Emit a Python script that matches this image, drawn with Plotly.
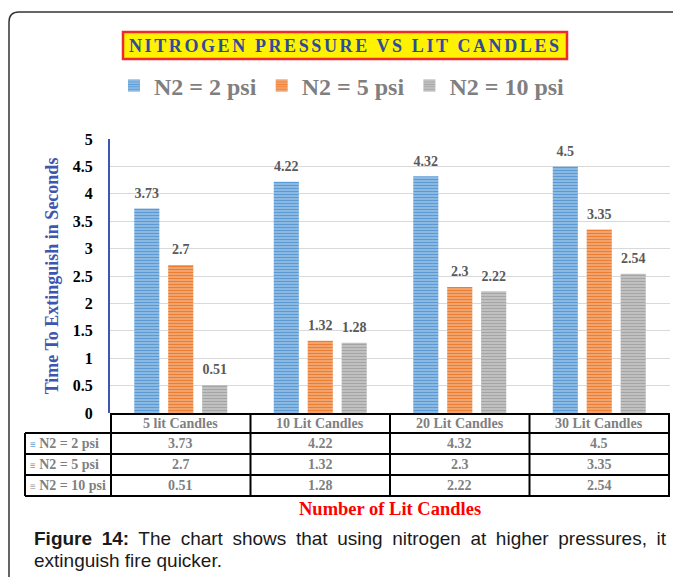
import plotly.graph_objects as go

categories = ["5 lit Candles", "10 Lit Candles", "20 Lit Candles", "30 Lit Candles"]
series_names = ["N2 = 2 psi", "N2 = 5 psi", "N2 = 10 psi"]
n2_2psi = [3.73, 4.22, 4.32, 4.5]
n2_5psi = [2.7, 1.32, 2.3, 3.35]
n2_10psi = [0.51, 1.28, 2.22, 2.54]
series_values = [n2_2psi, n2_5psi, n2_10psi]
colors = ["#5B9BD5", "#ED7D31", "#A5A5A5"]
y_ticks = [0, 0.5, 1, 1.5, 2, 2.5, 3, 3.5, 4, 4.5, 5]

# page offset of the figure inside the browser window (body margin)
OFF = 8
WIN_W, WIN_H = 681, 577
W, H = WIN_W - OFF, WIN_H - OFF
# plot area in window pixels
L, R, T, B = 110, 670, 139, 413


def px(x):
    return (x - L) / (R - L)


def py(y):
    return (B - y) / (B - T)


SERIF = "Liberation Serif"
SANS = "Liberation Sans"
GRAY_TXT = "#7F7F7F"

fig = go.Figure()
for name, vals, col in zip(series_names, series_values, colors):
    fig.add_trace(go.Bar(
        x=categories, y=vals, name=f"<b>{name}</b>",
        marker=dict(color=col, line=dict(width=0),
                    pattern=dict(shape="-", fgcolor=col, bgcolor="white", fgopacity=1,
                                 size=3, solidity=0.8, fillmode="replace")),
    ))
for name, vals, col in zip(series_names, series_values, colors):
    fig.add_trace(go.Scatter(
        x=categories, y=vals, mode="markers+text", showlegend=False,
        text=[f"{v:g}" for v in vals], textposition="top center",
        marker=dict(size=10, color="rgba(0,0,0,0)"),
        textfont=dict(family=SERIF, size=14, color="#595959", weight="bold"),
        cliponaxis=False, hoverinfo="skip",
    ))

shapes = []
annotations = []

# outer border
shapes.append(dict(type="path", xref="paper", yref="paper",
                   path=f"M {px(9)},{py(600)} L {px(9)},{py(22)} Q {px(9)},{py(12)} {px(19)},{py(12)} L {px(700)},{py(12)}",
                   line=dict(color="#333333", width=1.5)))

# title box
shapes.append(dict(type="rect", xref="paper", yref="paper",
                   x0=px(123), x1=px(567), y0=py(59), y1=py(32),
                   fillcolor="#FFF200", line=dict(color="#EE2A2A", width=2.5), layer="below"))
annotations.append(dict(xref="paper", yref="paper", x=px(345), y=py(46),
                        text="<span style='letter-spacing:2.6px'>NITROGEN PRESSURE VS LIT CANDLES</span>",
                        showarrow=False, xanchor="center", yanchor="middle",
                        font=dict(family=SERIF, size=18, color="#2F4A9C", weight="bold")))

# data table
row_tops = [414, 433, 454, 475, 496]
lw = 2
shapes.append(dict(type="line", xref="paper", yref="paper", x0=px(110), x1=px(670),
                   y0=py(row_tops[0]), y1=py(row_tops[0]), line=dict(color="black", width=lw)))
for yy in row_tops[1:]:
    shapes.append(dict(type="line", xref="paper", yref="paper", x0=px(25), x1=px(670),
                       y0=py(yy), y1=py(yy), line=dict(color="black", width=lw)))
shapes.append(dict(type="line", xref="paper", yref="paper", x0=px(25), x1=px(25),
                   y0=py(row_tops[1]), y1=py(row_tops[-1]), line=dict(color="black", width=lw)))
for i in range(len(categories) + 1):
    shapes.append(dict(type="line", xref="x", yref="paper", x0=i - 0.5, x1=i - 0.5,
                       y0=py(row_tops[0]), y1=py(row_tops[-1]), line=dict(color="black", width=lw)))

cell_font = dict(family=SERIF, size=14, color=GRAY_TXT, weight="bold")
for c in categories:
    annotations.append(dict(xref="x", yref="paper", x=c, y=py((row_tops[0] + row_tops[1]) / 2),
                            text=c, showarrow=False, font=cell_font, yanchor="middle"))
for r, (name, vals, col) in enumerate(zip(series_names, series_values, colors)):
    yc = py((row_tops[r + 1] + row_tops[r + 2]) / 2)
    annotations.append(dict(xref="paper", yref="paper", x=px(28), y=yc, xanchor="left", yanchor="middle",
                            text=f"<span style='color:{col};font-size:10px'>≡</span> {name}",
                            showarrow=False, font=cell_font))
    for c, v in zip(categories, vals):
        annotations.append(dict(xref="x", yref="paper", x=c, y=yc, text=f"{v:g}",
                                showarrow=False, font=cell_font, yanchor="middle"))

# x-axis title
annotations.append(dict(xref="paper", yref="paper", x=0.5, y=py(509), yanchor="middle",
                        text="Number of Lit Candles", showarrow=False,
                        font=dict(family=SERIF, size=18.5, color="#FF0000", weight="bold")))

# caption
cap_font = dict(family=SANS, size=19, color="#1A1A1A")
annotations.append(dict(xref="paper", yref="paper", x=px(32), y=py(538), xanchor="left", yanchor="middle",
                        text="<span style='word-spacing:4.3px'><b>Figure 14:</b> The chart shows that using nitrogen at higher pressures, it</span>",
                        showarrow=False, font=cap_font))
annotations.append(dict(xref="paper", yref="paper", x=px(32), y=py(560), xanchor="left", yanchor="middle",
                        text="extinguish fire quicker.", showarrow=False, font=cap_font))

fig.update_layout(
    width=W, height=H,
    margin=dict(l=L - OFF, r=W - (R - OFF), t=T - OFF, b=H - (B - OFF), pad=0),
    paper_bgcolor="white", plot_bgcolor="white",
    barmode="group", bargap=0.27, bargroupgap=0.26,
    scattermode="group", scattergap=0.27,
    showlegend=True,
    legend=dict(orientation="h", x=px(342), y=py(86), xanchor="center", yanchor="middle",
                font=dict(family=SERIF, size=24, color=GRAY_TXT, weight="bold"),
                itemwidth=30, bgcolor="rgba(0,0,0,0)"),
    xaxis=dict(showticklabels=False, showgrid=False, zeroline=False, showline=False, ticks=""),
    yaxis=dict(range=[0, 5], tickvals=y_ticks, ticktext=[f"{t:g}" for t in y_ticks],
               showgrid=True, gridcolor="#D9D9D9", gridwidth=1, zeroline=False,
               showline=True, linecolor="#3F56B0", linewidth=2, ticks="",
               ticklabelstandoff=12,
               tickfont=dict(family=SERIF, size=16, color="black", weight="bold"),
               title=dict(text="Time To Extinguish in Seconds", standoff=9,
                          font=dict(family=SERIF, size=18, color="#3F56B0", weight="bold"))),
    shapes=shapes, annotations=annotations,
)

fig.write_html("out.html")
